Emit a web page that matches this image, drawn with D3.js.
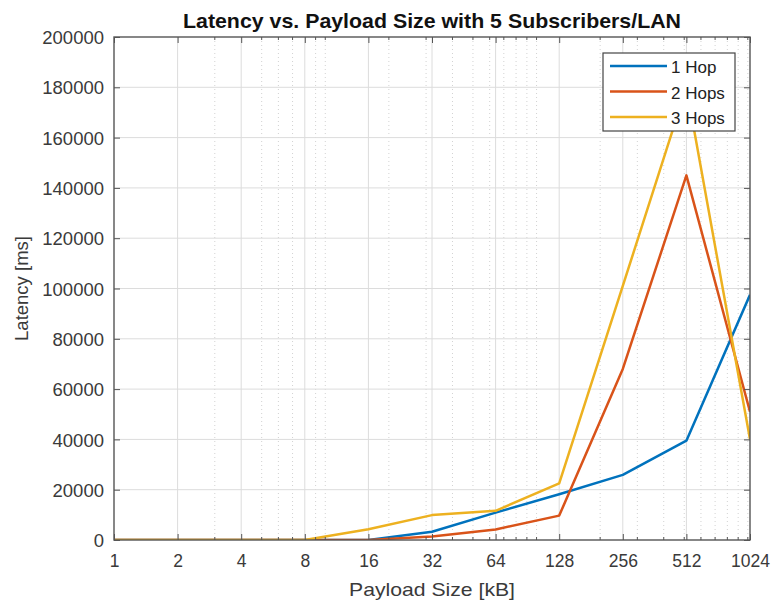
<!DOCTYPE html>
<html>
<head>
<meta charset="utf-8">
<script src="https://cdn.jsdelivr.net/npm/d3@7"></script>
<style>
  html, body { margin: 0; padding: 0; background: #fff; }
  svg { display: block; font-family: "Liberation Sans", Arial, Helvetica, sans-serif; }
</style>
</head>
<body>
<svg id="chart" width="774" height="607"></svg>
<script>
// ---- data ----
const payloadSizes = [1, 2, 4, 8, 16, 32, 64, 128, 256, 512, 1024];
const xTickLabels = ["1", "2", "4", "8", "16", "32", "64", "128", "256", "512", "1024"];
const yTicks = [0, 20000, 40000, 60000, 80000, 100000, 120000, 140000, 160000, 180000, 200000];
const seriesNames = ["1 Hop", "2 Hops", "3 Hops"];
const hop1 = [0, 0, 0, 0, 0, 3300, 10900, 18200, 25900, 39500, 97500];
const hop2 = [0, 0, 0, 0, 0, 1400, 4200, 9700, 68000, 145000, 51000];
const hop3 = [0, 0, 0, 0, 4300, 9900, 11600, 22500, 101000, 180000, 40000];
const colors = ["#0072BD", "#D95319", "#EDB120"];

// ---- layout ----
const svg = d3.select("#chart");
const L = 114, R = 750, T = 37, B = 540;
const x = d3.scaleLog().base(2).domain([1, 1024]).range([L, R]);
const y = d3.scaleLinear().domain([0, 200000]).range([B, T]);

// minor positions (log10-style minor grid)
const minor = [];
for (let p = 1; p <= 1000; p *= 10) {
  for (let k = 1; k <= 9; k++) {
    const v = k * p;
    if (v >= 1 && v <= 1024 && !payloadSizes.includes(v)) minor.push(v);
  }
}

const grid = svg.append("g");
grid.selectAll("line.minor").data(minor).join("line")
  .attr("x1", d => x(d)).attr("x2", d => x(d))
  .attr("y1", T).attr("y2", B)
  .attr("stroke", "#d2d2d2").attr("stroke-width", 1)
  .attr("stroke-dasharray", "1,3");
grid.selectAll("line.vmaj").data(payloadSizes.slice(1, -1)).join("line")
  .attr("x1", d => x(d)).attr("x2", d => x(d))
  .attr("y1", T).attr("y2", B)
  .attr("stroke", "#dcdcdc").attr("stroke-width", 1);
grid.selectAll("line.h").data(yTicks.slice(1, -1)).join("line")
  .attr("x1", L).attr("x2", R)
  .attr("y1", d => y(d)).attr("y2", d => y(d))
  .attr("stroke", "#dcdcdc").attr("stroke-width", 1);

// ---- lines ----
svg.append("clipPath").attr("id", "clip").append("rect")
  .attr("x", L).attr("y", T).attr("width", R - L).attr("height", B - T);
const line = d3.line().x((d, i) => x(payloadSizes[i])).y(d => y(d));
const plot = svg.append("g").attr("clip-path", "url(#clip)");
[hop1, hop2, hop3].forEach((s, i) => {
  plot.append("path").datum(s)
    .attr("d", line)
    .attr("fill", "none")
    .attr("stroke", colors[i])
    .attr("stroke-width", 2.5)
    .attr("stroke-linejoin", "round");
});

// ---- axes (box, inward ticks) ----
const axisColor = "#555";
const textColor = "#3a3a3a";
const ax = svg.append("g");
ax.append("rect").attr("x", L).attr("y", T).attr("width", R - L).attr("height", B - T)
  .attr("fill", "none").attr("stroke", axisColor).attr("stroke-width", 1.4);

const xAxisB = d3.axisBottom(x).tickValues(payloadSizes).tickFormat((d, i) => xTickLabels[i]).tickSizeInner(-6).tickSizeOuter(0).tickPadding(15);
const gxb = svg.append("g").attr("transform", `translate(0,${B})`).call(xAxisB);
gxb.select(".domain").remove();
gxb.selectAll(".tick line").attr("stroke", axisColor);
gxb.selectAll(".tick text").attr("font-size", 17.5).attr("fill", textColor)
  .attr("font-family", "Liberation Sans, Arial, sans-serif");

const xAxisT = d3.axisTop(x).tickValues(payloadSizes).tickFormat("").tickSizeInner(-6).tickSizeOuter(0);
const gxt = svg.append("g").attr("transform", `translate(0,${T})`).call(xAxisT);
gxt.select(".domain").remove();
gxt.selectAll(".tick line").attr("stroke", axisColor);

[B, T].forEach((yy, j) => {
  ax.selectAll(null).data(minor).join("line")
    .attr("x1", d => x(d)).attr("x2", d => x(d))
    .attr("y1", yy).attr("y2", j === 0 ? yy - 3 : yy + 3)
    .attr("stroke", axisColor).attr("stroke-width", 1);
});

const yAxisL = d3.axisLeft(y).tickValues(yTicks).tickFormat(d3.format("d")).tickSizeInner(-6).tickSizeOuter(0).tickPadding(10);
const gyl = svg.append("g").attr("transform", `translate(${L},0)`).call(yAxisL);
gyl.select(".domain").remove();
gyl.selectAll(".tick line").attr("stroke", axisColor);
gyl.selectAll(".tick text").attr("font-size", 18.5).attr("fill", textColor)
  .attr("font-family", "Liberation Sans, Arial, sans-serif").attr("dy", "0.36em");

const yAxisR = d3.axisRight(y).tickValues(yTicks).tickFormat("").tickSizeInner(-6).tickSizeOuter(0);
const gyr = svg.append("g").attr("transform", `translate(${R},0)`).call(yAxisR);
gyr.select(".domain").remove();
gyr.selectAll(".tick line").attr("stroke", axisColor);

// ---- labels ----
svg.append("text").attr("x", (L + R) / 2).attr("y", 28)
  .attr("text-anchor", "middle").attr("font-weight", "bold").attr("font-size", 21)
  .attr("fill", "#111").attr("textLength", 498).attr("lengthAdjust", "spacingAndGlyphs")
  .text("Latency vs. Payload Size with 5 Subscribers/LAN");

svg.append("text").attr("x", 432).attr("y", 596)
  .attr("text-anchor", "middle").attr("font-size", 18.5).attr("fill", textColor)
  .attr("textLength", 166).attr("lengthAdjust", "spacingAndGlyphs")
  .text("Payload Size [kB]");

svg.append("text").attr("transform", `translate(28,${(T + B) / 2}) rotate(-90)`)
  .attr("text-anchor", "middle").attr("font-size", 18.5).attr("fill", textColor)
  .text("Latency [ms]");

// ---- legend ----
const lg = svg.append("g");
lg.append("rect").attr("x", 603).attr("y", 53).attr("width", 132).attr("height", 78)
  .attr("fill", "#fff").attr("stroke", "#444").attr("stroke-width", 1.2);
seriesNames.forEach((n, i) => {
  const yy = 66 + i * 25.5;
  lg.append("line").attr("x1", 610).attr("x2", 667).attr("y1", yy).attr("y2", yy)
    .attr("stroke", colors[i]).attr("stroke-width", 2.5);
  lg.append("text").attr("x", 671).attr("y", yy + 7).attr("font-size", 17)
    .attr("fill", "#222").text(n);
});
</script>
</body>
</html>
